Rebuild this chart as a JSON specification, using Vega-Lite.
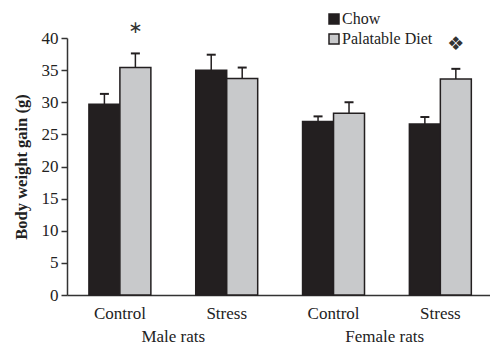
{
  "$schema": "https://vega.github.io/schema/vega-lite/v6.json",
  "width": 423,
  "height": 257,
  "autosize": {"type": "none"},
  "padding": {"left": 67, "top": 38, "right": 0, "bottom": 50},
  "config": {
    "font": "Liberation Serif",
    "view": {"stroke": null},
    "axisY": {
      "values": [0, 5, 10, 15, 20, 25, 30, 35, 40],
      "labelOverlap": false,
      "grid": false,
      "tickSize": 6,
      "tickWidth": 1.5,
      "tickColor": "#333",
      "domainColor": "#333",
      "domainWidth": 1.5,
      "labelPadding": 3,
      "labelFont": "Liberation Serif",
      "labelFontSize": 17,
      "labelColor": "#222",
      "titleFont": "Liberation Serif",
      "titleFontWeight": "bold",
      "titleFontSize": 16.5,
      "titleColor": "#222",
      "titlePadding": 12
    }
  },
  "layer": [
    {
      "data": {
        "values": [
          {"group": "Male Control", "diet": "Chow", "value": 29.7, "upper": 31.3, "label": ""},
          {"group": "Male Control", "diet": "Palatable Diet", "value": 35.4, "upper": 37.6, "label": "∗"},
          {"group": "Male Stress", "diet": "Chow", "value": 35.0, "upper": 37.4, "label": ""},
          {"group": "Male Stress", "diet": "Palatable Diet", "value": 33.7, "upper": 35.4, "label": ""},
          {"group": "Female Control", "diet": "Chow", "value": 27.0, "upper": 27.8, "label": ""},
          {"group": "Female Control", "diet": "Palatable Diet", "value": 28.3, "upper": 30.0, "label": ""},
          {"group": "Female Stress", "diet": "Chow", "value": 26.6, "upper": 27.7, "label": ""},
          {"group": "Female Stress", "diet": "Palatable Diet", "value": 33.6, "upper": 35.2, "label": "❖"}
        ]
      },
      "encoding": {
        "x": {
          "field": "group",
          "type": "nominal",
          "sort": ["Male Control", "Male Stress", "Female Control", "Female Stress"],
          "scale": {"paddingInner": 0.42, "paddingOuter": 0.19, "align": 0.54},
          "axis": {
            "title": null,
            "labelExpr": "split(datum.label, ' ')[1]",
            "ticks": false,
            "labelAngle": 0,
            "labelFont": "Liberation Serif",
            "labelFontSize": 17,
            "labelPadding": 10,
            "labelColor": "#222",
            "domainColor": "#333",
            "domainWidth": 1.5
          }
        },
        "xOffset": {
          "field": "diet",
          "type": "nominal",
          "sort": ["Chow", "Palatable Diet"],
          "scale": {"paddingInner": 0, "paddingOuter": 0}
        }
      },
      "layer": [
        {
          "mark": {"type": "bar", "stroke": "#231f20", "strokeWidth": 1.5},
          "encoding": {
            "y": {
              "field": "value",
              "type": "quantitative",
              "scale": {"domain": [0, 40]},
              "title": "Body weight gain (g)"
            },
            "color": {
              "field": "diet",
              "type": "nominal",
              "scale": {"domain": ["Chow", "Palatable Diet"], "range": ["#231f20", "#c8c9cb"]},
              "legend": {
                "title": null,
                "orient": "none",
                "legendX": 259,
                "legendY": -27,
                "padding": 0,
                "symbolType": "square",
                "symbolSize": 100,
                "symbolStrokeColor": "#231f20",
                "symbolStrokeWidth": 1.5,
                "labelFont": "Liberation Serif",
                "labelFontSize": 16,
                "labelColor": "#222",
                "labelOffset": 0,
                "rowPadding": 4
              }
            }
          }
        },
        {
          "mark": {"type": "rule", "stroke": "#231f20", "strokeWidth": 1.5},
          "encoding": {
            "y": {"field": "value", "type": "quantitative", "title": "Body weight gain (g)"},
            "y2": {"field": "upper"}
          }
        },
        {
          "mark": {"type": "tick", "orient": "horizontal", "size": 9, "thickness": 2, "color": "#231f20", "opacity": 1},
          "encoding": {
            "y": {"field": "upper", "type": "quantitative", "title": "Body weight gain (g)"}
          }
        },
        {
          "mark": {"type": "text", "dy": -25, "font": "DejaVu Sans", "baseline": "middle", "color": "#333"},
          "encoding": {
            "y": {"field": "upper", "type": "quantitative", "title": "Body weight gain (g)"},
            "text": {"field": "label"},
            "size": {"condition": {"test": "datum.label == '∗'", "value": 17}, "value": 19}
          }
        }
      ]
    },
    {
      "data": {"values": [{"sex": "Male rats"}, {"sex": "Female rats"}]},
      "mark": {"type": "text", "text": ""},
      "encoding": {
        "x": {
          "field": "sex",
          "type": "nominal",
          "sort": ["Male rats", "Female rats"],
          "scale": {"paddingInner": 0, "paddingOuter": 0},
          "axis": {
            "orient": "bottom",
            "offset": 24,
            "title": null,
            "domain": false,
            "ticks": false,
            "grid": false,
            "labelAngle": 0,
            "labelFont": "Liberation Serif",
            "labelFontSize": 17,
            "labelPadding": 9,
            "labelColor": "#222"
          }
        }
      }
    }
  ],
  "resolve": {"scale": {"x": "independent"}, "axis": {"x": "independent"}}
}
